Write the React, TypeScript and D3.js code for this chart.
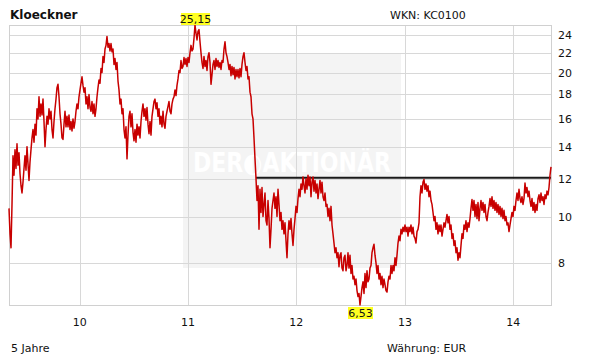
import React from "react";
import * as d3 from "d3";

const TITLE = "Kloeckner";
const WKN = "WKN: KC0100";
const PERIOD = "5 Jahre";
const CURRENCY = "Währung: EUR";
const START = new Date(2009, 4, 8);
const END = new Date(2014, 4, 8);
const Y_TICKS = [8, 10, 12, 14, 16, 18, 20, 22, 24];
const X_TICK_YEARS = [2010, 2011, 2012, 2013, 2014];
const REF_LEVEL = 12.05;
const REF_START = new Date(2011, 7, 18);

// closing prices, evenly spaced over the 5-year window
const PRICES = [
  10.4, 9.2, 8.6, 10.6, 13.4, 12.2, 13.8, 12.6, 14.2, 12.8, 13.6, 12.3,
  11.6, 11.2, 11.8, 12.6, 13.4, 12.5, 14.0, 12.9, 11.9, 13.0,
  13.8, 14.6, 15.2, 14.3, 15.6, 14.8, 16.8, 16.0, 17.8, 16.2,
  17.2, 16.3, 17.6, 15.8, 14.0, 15.2, 16.2, 15.6, 16.8, 16.0,
  16.6, 15.2, 14.6, 15.8, 16.8, 17.6, 18.6, 18.9, 17.8, 16.4,
  15.6, 14.6, 14.5, 15.6, 16.6, 15.4, 16.2, 15.4, 16.3, 15.2,
  15.8, 15.1, 16.0, 15.3, 15.8, 16.6, 17.2, 16.8, 17.8, 18.4,
  19.0, 19.6, 18.8, 18.2, 18.6, 17.2, 17.8, 16.8, 18.0, 16.9,
  16.6, 17.4, 16.4, 17.2, 16.2, 16.8, 17.8, 18.6, 19.3, 19.0,
  20.4, 20.0, 21.6, 21.0, 22.4, 22.8, 23.8, 22.6, 23.0, 22.2,
  23.0, 22.1, 22.4, 20.8, 21.4, 20.3, 21.0, 19.2, 18.4, 17.2,
  17.6, 16.4, 16.8, 15.2, 14.6, 15.4, 13.2, 14.8, 16.2, 16.6,
  15.4, 16.4, 15.0, 14.4, 15.2, 14.3, 15.6, 14.8, 15.4, 14.6,
  15.8, 16.6, 17.2, 16.2, 16.8, 15.9, 16.9, 15.6, 14.9, 15.8,
  14.8, 16.2, 16.8, 17.4, 17.6, 16.8, 17.3, 16.2, 16.8, 15.6,
  16.2, 15.4, 16.6, 15.6, 15.3, 16.2, 16.6, 17.0, 17.4, 16.6,
  16.4, 17.2, 17.6, 17.8, 18.4, 17.9, 18.8, 19.4, 20.2, 20.0,
  21.2, 20.4, 20.6, 21.5, 20.8, 21.4, 20.6, 21.5, 21.0, 22.0,
  22.8, 22.2, 22.4, 23.6, 25.15, 24.2, 23.4, 24.4, 24.6, 23.2,
  22.0, 21.0, 20.4, 21.6, 20.6, 21.2, 20.2, 21.6, 22.0, 21.0,
  18.9, 19.8, 20.8, 21.2, 20.3, 21.4, 20.6, 21.2, 20.5, 21.0,
  20.3, 21.2, 21.0, 22.4, 23.2, 22.0, 21.6, 21.0, 20.3, 20.8,
  19.7, 20.6, 19.8, 20.5, 19.4, 20.3, 19.6, 20.3, 19.5, 20.4,
  19.6, 20.8, 21.6, 22.0, 21.0, 20.2, 20.6, 19.4, 19.6, 18.2,
  17.8, 16.4, 16.0, 14.6, 13.2, 12.0, 10.8, 11.6, 9.4, 11.4,
  10.2, 11.5, 10.0, 10.6, 11.2, 9.8, 9.6, 10.8, 9.9, 8.6,
  9.4, 10.4, 10.8, 11.2, 10.4, 11.0, 10.0, 11.4, 10.6, 9.8,
  10.2, 9.4, 9.8, 9.2, 9.7, 8.9, 8.2, 9.2, 9.8, 9.4,
  9.9, 9.2, 8.7, 9.4, 9.9, 10.5, 10.2, 10.9, 11.4, 11.0,
  11.7, 11.4, 12.1, 11.6, 11.2, 12.0, 11.4, 12.2, 11.6, 12.1,
  11.0, 11.8, 12.1, 11.3, 11.9, 11.2, 11.7, 10.9, 11.4, 11.9,
  11.2, 11.8, 11.0, 10.8, 11.2, 10.5, 10.6, 10.0, 10.4, 9.8,
  10.5, 9.6, 9.2, 8.8, 8.4, 8.6, 8.2, 8.4, 7.85, 8.3,
  8.4, 7.8, 7.7, 8.2, 8.3, 7.7, 7.9, 8.4, 7.8, 8.3,
  7.6, 7.9, 7.4, 7.5, 7.2, 7.4, 7.0, 6.8, 6.9, 6.53,
  6.8, 7.1, 7.3, 6.9, 7.6, 7.1, 7.7, 7.3, 7.4, 7.8,
  7.9, 8.4, 8.6, 8.75, 8.3, 8.0, 7.6, 7.9, 7.4, 7.6,
  7.2, 7.5, 7.1, 7.4, 7.2, 7.0, 6.95, 7.3, 7.5, 7.4,
  7.9, 7.6, 7.9, 7.7, 8.2, 7.9, 8.3, 8.8, 9.1, 8.9,
  9.4, 9.2, 9.5, 9.3, 9.6, 9.3, 9.5, 9.1, 9.5, 9.3,
  9.6, 9.2, 9.5, 9.1, 9.0, 8.8, 9.3, 9.4, 9.7, 11.0,
  11.6, 11.2, 11.8, 11.95, 11.4, 11.7, 11.3, 11.6, 11.0, 11.3,
  10.8, 10.6, 10.2, 9.8, 10.0, 9.4, 9.7, 9.2, 9.6, 9.3,
  9.6, 9.1, 9.4, 9.7, 9.5, 9.8, 10.1, 9.7, 10.0, 9.4,
  9.6, 9.0, 9.2, 8.7, 8.9, 8.4, 8.6, 8.1, 8.4, 8.2,
  8.7, 9.2, 9.0, 9.6, 9.4, 9.8, 9.3, 9.7, 9.5, 9.9,
  10.4, 10.85, 10.3, 10.8, 10.0, 10.6, 9.9, 10.7, 9.8, 10.4,
  10.8, 10.3, 10.7, 10.2, 10.6, 10.0, 9.8, 10.2, 10.5, 10.9,
  10.5, 11.0, 10.4, 10.8, 10.3, 10.7, 10.2, 10.6, 10.1, 10.5,
  10.0, 10.4, 9.9, 10.3, 9.8, 10.0, 9.6, 9.7, 9.3, 9.6,
  9.9, 10.2, 10.0, 10.5, 10.3, 10.8, 11.2, 10.8, 11.4, 10.9,
  10.7, 11.0, 10.6, 10.9, 11.75, 11.2, 11.5, 11.0, 11.3, 10.8,
  10.5, 10.9, 10.3, 10.7, 10.2, 10.6, 10.3, 10.9, 11.1, 10.7,
  11.2, 10.8, 11.0, 10.6, 11.1, 10.9, 11.3, 11.1, 11.5, 12.2, 12.7,
];

const W = 611;
const H = 364;
const FONT = "'DejaVu Sans', Verdana, sans-serif";

export default function App() {
  const left = 9, right = 551, top = 25, bottom = 305;
  const n = PRICES.length;
  const span = END.getTime() - START.getTime();
  const data = PRICES.map((v, i) => ({
    date: new Date(START.getTime() + (span * i) / (n - 1)),
    value: v,
  }));
  const x = d3.scaleTime().domain([START, END]).range([left, right]);
  const y = d3.scaleLog().domain([d3.min(PRICES)!, d3.max(PRICES)!]).range([bottom, top]);
  const line = d3
    .line<{ date: Date; value: number }>()
    .x((d) => x(d.date))
    .y((d) => y(d.value));

  const maxI = d3.maxIndex(PRICES);
  const minI = d3.minIndex(PRICES);
  const maxP = data[maxI];
  const minP = data[minI];
  const fmt = (v: number) => v.toFixed(2).replace(".", ",");

  return (
    <svg width={W} height={H} style={{ position: "absolute", left: 0, top: 0, background: "#fff" }}>
      <rect x={0} y={0} width={W} height={H} fill="#fff" />
      {/* watermark */}
      <rect x={183} y={53} width={218} height={215} fill="#f4f4f4" />
      <text
        x={292}
        y={172}
        textAnchor="middle"
        fontFamily="'DejaVu Sans Condensed', 'DejaVu Sans', sans-serif"
        fontWeight="bold"
        fontSize={27}
        fill="#ffffff"
        textLength={198}
        lengthAdjust="spacingAndGlyphs"
      >
        DER◐AKTIONÄR
      </text>
      {/* grid */}
      {Y_TICKS.map((t) => (
        <line key={t} x1={left} x2={right} y1={Math.round(y(t)) + 0.5} y2={Math.round(y(t)) + 0.5} stroke="#d8d8d8" />
      ))}
      {X_TICK_YEARS.map((yr) => {
        const xx = Math.round(x(new Date(yr, 0, 1))) + 0.5;
        return <line key={yr} x1={xx} x2={xx} y1={top} y2={bottom} stroke="#d8d8d8" />;
      })}
      <rect x={left + 0.5} y={top + 0.5} width={right - left} height={bottom - top} fill="none" stroke="#d0d0d0" />
      {/* reference line */}
      <line x1={x(REF_START)} x2={right} y1={y(REF_LEVEL)} y2={y(REF_LEVEL)} stroke="#1a1a1a" strokeWidth={2} />
      {/* price */}
      <path d={line(data) ?? ""} fill="none" stroke="#c80000" strokeWidth={1.5} strokeLinejoin="round" />
      {/* y labels */}
      {Y_TICKS.map((t) => (
        <text key={t} x={558} y={y(t) + 4} fontFamily={FONT} fontSize={11} fill="#111">
          {t}
        </text>
      ))}
      {X_TICK_YEARS.map((yr) => (
        <text key={yr} x={x(new Date(yr, 0, 1))} y={326} textAnchor="middle" fontFamily={FONT} fontSize={11} fill="#111">
          {String(yr).slice(2)}
        </text>
      ))}
      {/* max/min labels */}
      <rect x={x(maxP.date) - 14} y={13} width={29} height={12} fill="#ffff22" />
      <text x={x(maxP.date) + 0.5} y={23} textAnchor="middle" fontFamily={FONT} fontSize={11} fill="#111">
        {fmt(maxP.value)}
      </text>
      <rect x={x(minP.date) - 12} y={307} width={25} height={12} fill="#ffff22" />
      <text x={x(minP.date) + 0.5} y={317} textAnchor="middle" fontFamily={FONT} fontSize={11} fill="#111">
        {fmt(minP.value)}
      </text>
      {/* titles */}
      <text x={10} y={19} fontFamily={FONT} fontWeight="bold" fontSize={12} fill="#111">
        {TITLE}
      </text>
      <text x={390} y={19} fontFamily={FONT} fontSize={11} fill="#111">
        {WKN}
      </text>
      <text x={11} y={352} fontFamily={FONT} fontSize={11} fill="#111">
        {PERIOD}
      </text>
      <text x={387} y={352} fontFamily={FONT} fontSize={11} fill="#111">
        {CURRENCY}
      </text>
    </svg>
  );
}
